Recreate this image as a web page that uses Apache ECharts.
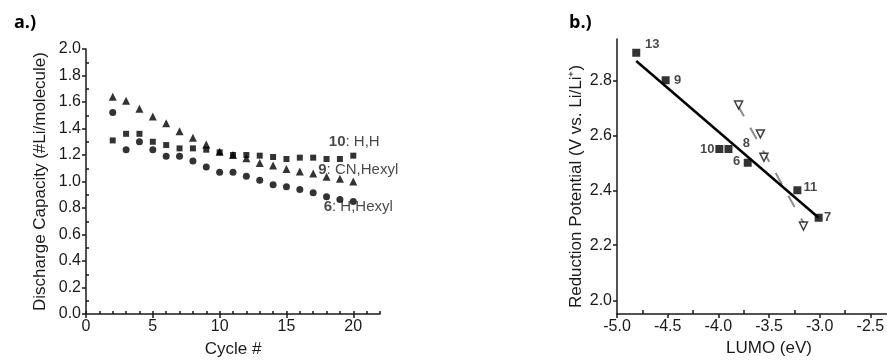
<!DOCTYPE html>
<html>
<head>
<meta charset="utf-8">
<script src="https://cdn.jsdelivr.net/npm/echarts@6/dist/echarts.min.js"></script>
<style>
html, body { margin: 0; background: #fff; }
#chart { width: 887px; height: 360px; }
</style>
</head>
<body>
<div id="chart"></div>
<script>
// panel a: discharge capacity per cycle
const cycles = [2, 3, 4, 5, 6, 7, 8, 9, 10, 11, 12, 13, 14, 15, 16, 17, 18, 19, 20];
const cap10 = [1.31, 1.36, 1.36, 1.30, 1.275, 1.25, 1.25, 1.24, 1.22, 1.20, 1.20, 1.195, 1.185, 1.17, 1.18, 1.18, 1.17, 1.17, 1.195];
const cap9 = [1.64, 1.61, 1.55, 1.49, 1.44, 1.38, 1.33, 1.28, 1.225, 1.20, 1.175, 1.14, 1.12, 1.095, 1.075, 1.06, 1.035, 1.02, 1.0];
const cap6 = [1.52, 1.24, 1.30, 1.24, 1.19, 1.19, 1.155, 1.11, 1.07, 1.07, 1.04, 1.01, 0.975, 0.96, 0.94, 0.915, 0.885, 0.865, 0.85];
const capTicks = [0, 0.2, 0.4, 0.6, 0.8, 1.0, 1.2, 1.4, 1.6, 1.8, 2.0];
const cycleTicks = [0, 5, 10, 15, 20];

// panel b: reduction potential vs LUMO
const cmpNames = ['13', '9', '10', '8', '6', '11', '7'];
const cmpLumo = [-4.81, -4.52, -3.99, -3.90, -3.71, -3.22, -3.01];
const cmpPot = [2.90, 2.80, 2.55, 2.55, 2.50, 2.40, 2.30];
const calcLumo = [-3.80, -3.585, -3.55, -3.16];
const calcPot = [2.71, 2.605, 2.52, 2.27];
const fitLumo = [-4.81, -3.01];
const fitPot = [2.87, 2.30];
const calcFitLumo = [-3.81, -3.15];
const calcFitPot = [2.71, 2.275];
const potTicks = [2.0, 2.2, 2.4, 2.6, 2.8];

// label placement (text offsets from the point)
const endLabelOffset = { cap10: [1, -14], cap9: [5, -12], cap6: [5, 5] };
const cmpLabelOffset = { '13': [16, -8], '9': [12, 0], '10': [-12, 0], '8': [18, -6], '6': [-11, -1], '11': [13, -3], '7': [9, 0] };

const FONT = '"Liberation Sans", Arial, sans-serif';
const INK = '#1a1a1a';

function pairs(xs, ys) { return xs.map((x, i) => [x, ys[i]]); }

function withEndLabel(ys, key, text) {
  return cycles.map((c, i) => {
    const item = { value: [c, ys[i]] };
    if (i === cycles.length - 1) {
      item.label = {
        show: true, position: 'inside', offset: endLabelOffset[key],
        formatter: text, color: INK, fontFamily: FONT, fontSize: 15,
        rich: { b: { fontWeight: 'bold', fontSize: 15, color: INK, fontFamily: FONT } }
      };
    }
    return item;
  });
}

const axisLineStyle = { color: INK, width: 1.5 };
const axisLabelStyle = { color: INK, fontFamily: FONT, fontSize: 16 };
const axisNameStyle = { color: INK, fontFamily: FONT, fontSize: 17 };
const panelTitleStyle = { fontFamily: '"Open Sans", sans-serif', fontWeight: 'bold', fontSize: 18, color: '#000' };

const chart = echarts.init(document.getElementById('chart'), null, { renderer: 'canvas' });
chart.setOption({
  animation: false,
  backgroundColor: '#fff',
  title: [
    { text: 'a.)', left: 9, top: 9, textStyle: panelTitleStyle },
    { text: 'b.)', left: 564, top: 9, textStyle: panelTitleStyle }
  ],
  grid: [
    { left: 86, top: 49, width: 294, bottom: 46, outerBoundsMode: 'none' },
    { left: 617, top: 39, width: 304, bottom: 46, outerBoundsMode: 'none' }
  ],
  xAxis: [
    {
      gridIndex: 0, type: 'value', min: 0, max: 22, interval: 1,
      name: 'Cycle #', nameLocation: 'middle', nameGap: 27, nameTextStyle: axisNameStyle,
      axisLine: { lineStyle: axisLineStyle },
      axisTick: { customValues: cycleTicks, length: 4, lineStyle: axisLineStyle },
      axisLabel: Object.assign({ customValues: cycleTicks, margin: 5 }, axisLabelStyle),
      splitLine: { show: false }
    },
    {
      gridIndex: 0, type: 'value', position: 'bottom', min: 0, max: 22, interval: 1,
      axisLine: { show: false },
      axisTick: { inside: true, length: 3, lineStyle: axisLineStyle },
      axisLabel: { show: false },
      splitLine: { show: false }
    },
    {
      gridIndex: 1, type: 'value', min: -5, max: -2, interval: 0.5,
      name: 'LUMO (eV)', nameLocation: 'middle', nameGap: 24, nameTextStyle: axisNameStyle,
      axisLine: { lineStyle: axisLineStyle },
      axisTick: { length: 4, lineStyle: axisLineStyle },
      minorTick: { show: true, splitNumber: 2, length: -4, lineStyle: axisLineStyle },
      axisLabel: Object.assign({ margin: 5, formatter: v => v.toFixed(1) }, axisLabelStyle),
      splitLine: { show: false }
    }
  ],
  yAxis: [
    {
      gridIndex: 0, type: 'value', min: 0, max: 2, interval: 0.2,
      name: 'Discharge Capacity (#Li/molecule)', nameLocation: 'middle', nameGap: 37, nameTextStyle: axisNameStyle,
      axisLine: { lineStyle: axisLineStyle },
      axisTick: { length: 4, lineStyle: axisLineStyle },
      minorTick: { show: true, splitNumber: 2, length: -3, lineStyle: axisLineStyle },
      axisLabel: Object.assign({ margin: 5, formatter: v => v.toFixed(1), customValues: capTicks }, axisLabelStyle),
      splitLine: { show: false }
    },
    {
      gridIndex: 1, type: 'value', min: 1.95, max: 2.95,
      name: 'Reduction Potential (V vs. Li/Li⁺)', nameLocation: 'middle', nameGap: 32,
      nameTextStyle: Object.assign({ padding: [0, 20, 0, 0] }, axisNameStyle),
      axisLine: { lineStyle: axisLineStyle },
      axisTick: { customValues: potTicks, length: 4, lineStyle: axisLineStyle },
      axisLabel: Object.assign({ margin: 5, customValues: potTicks, formatter: v => v.toFixed(1) }, axisLabelStyle),
      splitLine: { show: false }
    }
  ],
  series: [
    {
      type: 'scatter', xAxisIndex: 0, yAxisIndex: 0, symbol: 'rect', symbolSize: 6,
      itemStyle: { color: '#000' }, data: withEndLabel(cap10, 'cap10', '{b|10}: H,H')
    },
    {
      type: 'scatter', xAxisIndex: 0, yAxisIndex: 0, symbol: 'triangle', symbolSize: 8,
      itemStyle: { color: '#000' }, data: withEndLabel(cap9, 'cap9', '{b|9}: CN,Hexyl')
    },
    {
      type: 'scatter', xAxisIndex: 0, yAxisIndex: 0, symbol: 'circle', symbolSize: 7,
      itemStyle: { color: '#000' }, data: withEndLabel(cap6, 'cap6', '{b|6}: H,Hexyl')
    },
    {
      type: 'line', xAxisIndex: 2, yAxisIndex: 1, symbol: 'none', z: 1,
      lineStyle: { color: '#8c8c8c', width: 2, type: [13, 13] },
      data: pairs(calcFitLumo, calcFitPot)
    },
    {
      type: 'line', xAxisIndex: 2, yAxisIndex: 1, symbol: 'none', z: 2,
      lineStyle: { color: '#000', width: 2.5 },
      data: pairs(fitLumo, fitPot)
    },
    {
      type: 'scatter', xAxisIndex: 2, yAxisIndex: 1, symbol: 'rect', symbolSize: 8, z: 3,
      itemStyle: { color: '#000' },
      data: cmpNames.map((n, i) => ({
        name: n, value: [cmpLumo[i], cmpPot[i]],
        label: { show: true, position: 'inside', offset: cmpLabelOffset[n], formatter: '{b}', color: INK, fontFamily: FONT, fontSize: 13, fontWeight: 'bold' }
      }))
    },
    {
      type: 'scatter', xAxisIndex: 2, yAxisIndex: 1, symbol: 'triangle', symbolRotate: 180, symbolSize: 8, z: 3,
      itemStyle: { color: '#fff', borderColor: '#111', borderWidth: 1.5 },
      data: pairs(calcLumo, calcPot)
    }
  ]
});
</script>
</body>
</html>
